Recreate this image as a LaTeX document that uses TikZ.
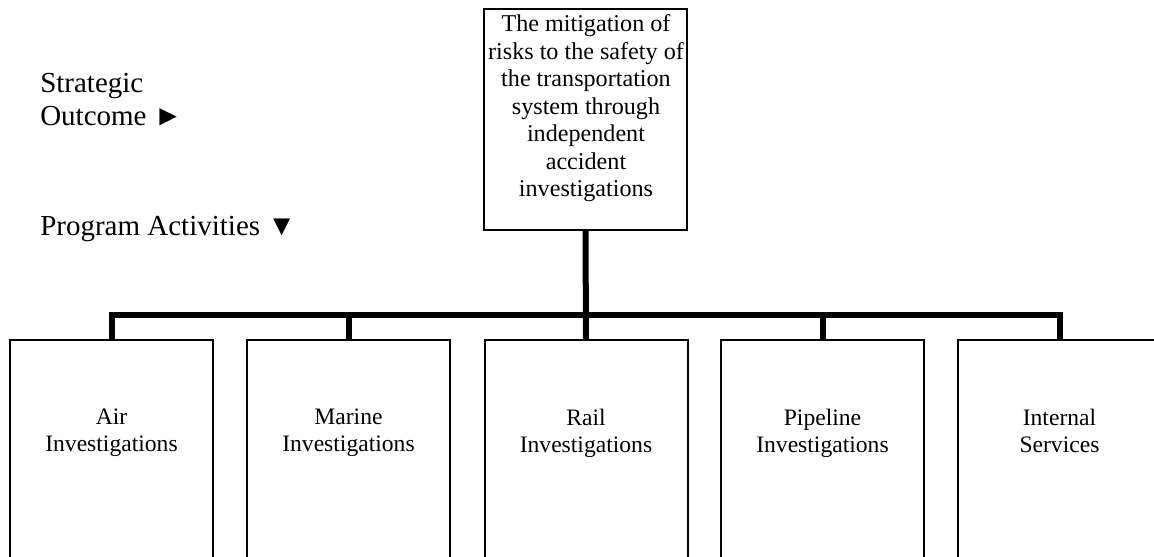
\documentclass[tikz,border=0pt]{standalone}
\usepackage{fontspec}
\setmainfont{Liberation Serif}
\usetikzlibrary{positioning}
\tikzset{
    unitbox/.style={draw, line width=1.5pt, minimum width=152.25pt, anchor=north, inner sep=0pt},
    boxtext/.style={align=center, inner sep=0pt, font=\fontsize{17.7pt}{20.4pt}\selectfont},
    sidetext/.style={align=left, inner sep=0pt, font=\fontsize{21.75pt}{24.75pt}\selectfont},
    bus/.style={line width=4.5pt},
}

\begin{document}
\begin{tikzpicture}[x=0.75pt, y=-0.75pt]
    \useasboundingbox (0,0) rectangle (1154,557);
    \clip (0,0) rectangle (1154,557);
    % strategic outcome
    \node[unitbox, minimum height=165.75pt] (outcome) at (585.5,8) {};
    \node[boxtext, font=\fontsize{18.1pt}{20.6pt}\selectfont] (outcometext) at (586,108.5) {The mitigation of\\risks to the safety of\\the transportation\\system through\\independent\\accident\\investigations};
    \node[sidetext, anchor=base west] (solabel) at (40,125) {Strategic\\Outcome ►};
    \node[sidetext, anchor=base west] (palabel) at (40,235) {Program Activities ▼};
    % program activities
    \foreach \name/\x/\txt in {air/111.5/{Air\\Investigations},
                               marine/348.5/{Marine\\Investigations},
                               rail/586/{Rail\\Investigations},
                               pipeline/822.5/{Pipeline\\Investigations},
                               internal/1059.5/{Internal\\Services\vphantom{g}}} {
        \node[unitbox, minimum height=172.5pt] (\name) at (\x,339) {};
        \node[boxtext] (\name text) at (\x,433) {\txt};
    }
    \coordinate (bus) at (585.5,315);
    \draw[bus] (outcome.south) -- (rail.north);
    \draw[bus] (air.north) |- (bus) -| (internal.north);
    \draw[bus] (marine.north) -- (marine.north |- bus);
    \draw[bus] (pipeline.north) -- (pipeline.north |- bus);
\end{tikzpicture}
\end{document}
